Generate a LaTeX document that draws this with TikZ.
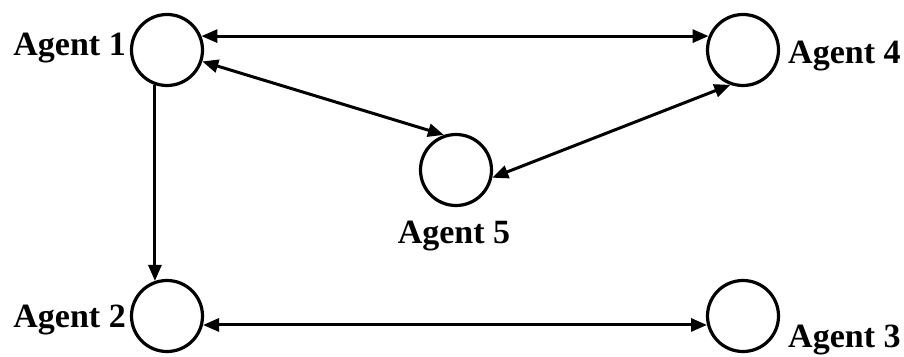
\documentclass[tikz,border=0pt]{standalone}
\usepackage{fontspec}
\setmainfont{Liberation Serif}
\usetikzlibrary{arrows.meta}
\begin{document}
\begin{tikzpicture}[x=1pt,y=-1pt,
  agent/.style={circle,draw=black,line width=3.2pt,minimum size=71pt,inner sep=0pt},
  lbl/.style={font=\fontsize{34}{40}\selectfont\bfseries,inner sep=0pt},
  conn/.style={line width=3pt,-{Triangle[length=16pt,width=13pt]}},
  biconn/.style={line width=3pt,{Triangle[length=16pt,width=13pt]}-{Triangle[length=16pt,width=13pt]}}]
\useasboundingbox (0,0) rectangle (904,356);
\node[agent] (a1) at (167,50) {};
\node[agent] (a4) at (743,50) {};
\node[agent] (a5) at (456,170) {};
\node[agent] (a2) at (167,316) {};
\node[agent] (a3) at (743,316) {};
\node[lbl,anchor=base east] (l1) at (126,55) {Agent 1};
\node[lbl,anchor=base west] (l4) at (788,63) {Agent 4};
\node[lbl,anchor=base] (l5) at (454,243) {Agent 5};
\node[lbl,anchor=base east] (l2) at (126,327) {Agent 2};
\node[lbl,anchor=base west] (l3) at (788,347) {Agent 3};
\draw[biconn] (a1.22) -- (a4.158);
\draw[biconn] (a1.-18) -- (a5.109);
\draw[biconn] (a5.-12) -- (a4.250);
\draw[conn] (a1.251) -- (a2.109);
\draw[biconn] (a2.-14) -- (a3.194);
\end{tikzpicture}
\end{document}
